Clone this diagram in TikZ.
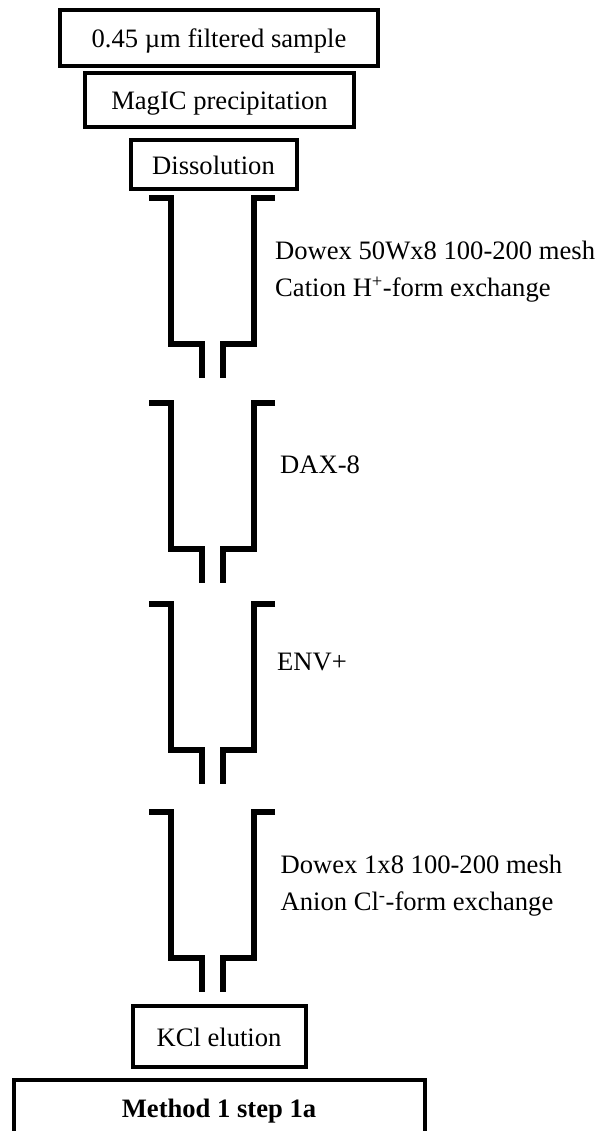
\documentclass[tikz,border=0pt]{standalone}
\usepackage{fontspec}
\setmainfont{Liberation Serif}
\begin{document}
\begin{tikzpicture}[
        x=1pt, y=-1pt,
        % Kasten um die einzelnen Schritte
        stepbox/.style={draw, line width=4pt, rectangle, inner sep=0pt, outer sep=0pt, text height=26pt, text depth=6pt, font=\fontsize{26.6}{30}\selectfont, anchor=north west},
        wall/.style={line width=6pt, line join=miter},
        columnlabel/.style={align=left, anchor=west, inner sep=0pt, font=\fontsize{26.6}{37}\selectfont}
    ]
    \useasboundingbox (0,0) rectangle (597,1131);
    \clip (0,0) rectangle (597,1131);
    \node[stepbox, minimum width=318pt, minimum height=56pt] (sample) at (60,10) {0.45 µm filtered sample};
    \node[stepbox, minimum width=269pt, minimum height=54pt] (precip) at (85,73) {MagIC precipitation};
    \node[stepbox, minimum width=166pt, minimum height=49pt] (dissol) at (130.5,140) {Dissolution};
    % vier Saeulen, nur die Hoehe aendert sich
    \foreach \name/\ytop in {cation/198, dax/403, env/604, anion/812} {
        \coordinate (\name) at (212,\ytop);
        \draw[wall] ([xshift=-63pt]\name) -| ([xshift=-41.5pt,yshift=-146pt]\name) -| ([xshift=-10.5pt,yshift=-180pt]\name);
        \draw[wall] ([xshift=63pt]\name) -| ([xshift=41.5pt,yshift=-146pt]\name) -| ([xshift=10.5pt,yshift=-180pt]\name);
    }
    \node[columnlabel] (cationlabel) at (275,272) {Dowex 50Wx8 100-200 mesh\\Cation H\textsuperscript{+}-form exchange};
    \node[columnlabel] (daxlabel) at (280,465) {DAX-8};
    \node[columnlabel] (envlabel) at (277,662) {ENV+};
    \node[columnlabel] (anionlabel) at (280.5,886) {Dowex 1x8 100-200 mesh\\Anion Cl\textsuperscript{-}-form exchange};
    \node[stepbox, minimum width=173pt, minimum height=61pt] (elution) at (132.5,1006) {KCl elution};
    \node[stepbox, minimum width=411.5pt, minimum height=90pt] (method) at (13.5,1080) {};
    \node[font=\fontsize{26.6}{30}\selectfont\bfseries, text height=26pt, text depth=6pt, inner sep=0pt] (methodlabel) at (219,1107) {Method 1 step 1a};
\end{tikzpicture}
\end{document}
